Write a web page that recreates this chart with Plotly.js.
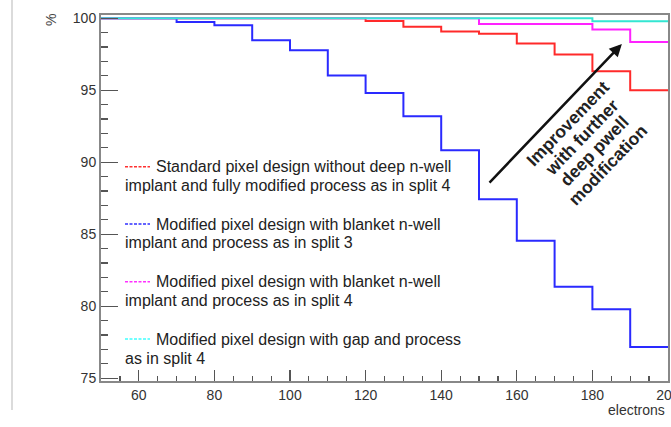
<!DOCTYPE html>
<html>
<head>
<meta charset="utf-8">
<script src="https://cdn.plot.ly/plotly-3.0.1.min.js"></script>
<style>html,body{margin:0;padding:0;background:#fff;overflow:hidden;}#chart{width:671px;height:427px;}</style>
</head>
<body>
<div id="chart"></div>
<script>
// Bin lower edges (electrons) and the upper end of the last bin
var binLow = [50, 60, 70, 80, 90, 100, 110, 120, 130, 140, 150, 160, 170, 180, 190];
var xMax = 200;

// Efficiency (%) per bin
var redStandard   = [100, 100, 100, 100, 100, 100, 100, 99.81, 99.40, 99.08, 98.92, 98.24, 97.48, 96.32, 95.00];
var blueSplit3    = [100, 100, 99.74, 99.51, 98.47, 97.78, 96.02, 94.81, 93.19, 90.83, 87.43, 84.54, 81.34, 79.79, 77.17];
var magentaSplit4 = [100, 100, 100, 100, 100, 100, 100, 100, 100, 100, 99.60, 99.60, 99.60, 99.21, 98.35];
var cyanGap       = [100, 100, 100, 100, 100, 100, 100, 100, 100, 100, 100, 100, 100, 99.79, 99.79];

var seriesNames = [
  ["Standard pixel design without deep n-well", "implant and fully modified process as in split 4"],
  ["Modified pixel design with blanket n-well", "implant and process as in split 3"],
  ["Modified pixel design with blanket n-well", "implant and process as in split 4"],
  ["Modified pixel design with gap and process", "as in split 4"]
];
var seriesColors = ["#ff2a2a", "#2a2aff", "#ff22ff", "#33e6d2"];
var legendDash = ["#ff3030", "#3030ff", "#ff30ff", "#40ffff"];
var seriesData = [redStandard, blueSplit3, magentaSplit4, cyanGap];

var arrowLines = ["Improvement", "with further", "deep pwell", "modification"];
var xTicks = [60, 80, 100, 120, 140, 160, 180, 200];
var yTicks = [75, 80, 85, 90, 95, 100];

function stepX() { return binLow.concat([xMax]); }
function stepY(v) { return v.concat([v[v.length - 1]]); }

var traces = seriesData.map(function (v, i) {
  return {
    x: stepX(), y: stepY(v), type: "scatter", mode: "lines",
    line: {shape: "hv", color: seriesColors[i], width: 2},
    showlegend: false, hoverinfo: "skip"
  };
});

// layout geometry helpers (pixels -> paper)
var L = 101, R = 668, T = 15, B = 381;
function px(x) { return (x - L) / (R - L); }
function py(y) { return (B - y) / (B - T); }

var FONT = "Liberation Sans, Arial, Helvetica, sans-serif";
var annotations = [];
var shapes = [];
var legendY = [[166.7, 185.7], [224, 242.7], [281.7, 300.7], [339, 358.3]];
seriesNames.forEach(function (lines, i) {
  annotations.push({xref: "paper", yref: "paper", x: px(154), y: py(legendY[i][0]),
    xanchor: "left", yanchor: "middle", showarrow: false, text: lines[0],
    font: {family: FONT, size: 16, color: "#222"}});
  annotations.push({xref: "paper", yref: "paper", x: px(123), y: py(legendY[i][1]),
    xanchor: "left", yanchor: "middle", showarrow: false, text: lines[1],
    font: {family: FONT, size: 16, color: "#222"}});
  shapes.push({type: "line", xref: "paper", yref: "paper",
    x0: px(125), x1: px(150), y0: py(legendY[i][0]), y1: py(legendY[i][0]),
    line: {color: legendDash[i], width: 1.5, dash: "3px,1.5px"}});
});

// arrow
annotations.push({xref: "x", yref: "y", axref: "x", ayref: "y",
  x: 187.8, y: 98.21, ax: 152.4, ay: 88.48, text: "", showarrow: true,
  arrowhead: 2, arrowsize: 1, arrowwidth: 2.5, arrowcolor: "#111"});
// rotated note, one annotation per line
var noteStart = [567.5, 124], noteStep = [13.5, 13.7];
arrowLines.forEach(function (t, k) {
  annotations.push({xref: "paper", yref: "paper",
    x: px(noteStart[0] + k * noteStep[0]), y: py(noteStart[1] + k * noteStep[1]),
    xanchor: "center", yanchor: "middle", showarrow: false, textangle: -46,
    text: "<b>" + t + "</b>", font: {family: FONT, size: 17.5, color: "#222"}});
});
// axis titles
annotations.push({xref: "paper", yref: "paper", x: px(51), y: py(20),
  xanchor: "center", yanchor: "middle", showarrow: false, textangle: -90,
  text: "%", font: {family: FONT, size: 14, color: "#444"}});
annotations.push({xref: "paper", yref: "paper", x: px(667), y: py(410),
  xanchor: "right", yanchor: "middle", showarrow: false,
  text: "electrons", font: {family: FONT, size: 14, color: "#333"}});

// page border line on the left
shapes.push({type: "line", xref: "paper", yref: "paper", x0: px(12), x1: px(12),
  y0: py(410), y1: py(0), line: {color: "#cfcfcf", width: 1.5}, layer: "below"});

var layout = {
  width: 671, height: 427,
  margin: {l: L, r: 671 - R, t: T, b: 427 - B, pad: 0},
  paper_bgcolor: "#fff", plot_bgcolor: "#fff",
  showlegend: false,
  font: {family: FONT, size: 14, color: "#333"},
  xaxis: {
    range: [50, 200], tickmode: "array", tickvals: xTicks,
    ticks: "inside", ticklen: 11, tickwidth: 1.2, tickcolor: "#555",
    minor: {dtick: 5, tick0: 50, ticks: "inside", ticklen: 5, tickwidth: 1.2, tickcolor: "#555", showgrid: false},
    showline: true, linecolor: "#888", linewidth: 2, mirror: true,
    showgrid: false, zeroline: false, ticklabeloverflow: "allow",
    tickfont: {family: FONT, size: 14, color: "#333"}
  },
  yaxis: {
    range: [74.8, 100.22], tickmode: "array", tickvals: yTicks,
    ticks: "inside", ticklen: 17, tickwidth: 1.2, tickcolor: "#555",
    minor: {dtick: 1, tick0: 75, ticks: "inside", ticklen: 7, tickwidth: 1.2, tickcolor: "#555", showgrid: false},
    showline: true, linecolor: "#888", linewidth: 2, mirror: true,
    showgrid: false, zeroline: false,
    tickfont: {family: FONT, size: 14, color: "#333"}
  },
  annotations: annotations,
  shapes: shapes
};

Plotly.newPlot("chart", traces, layout, {staticPlot: true, displayModeBar: false});
</script>
</body>
</html>
